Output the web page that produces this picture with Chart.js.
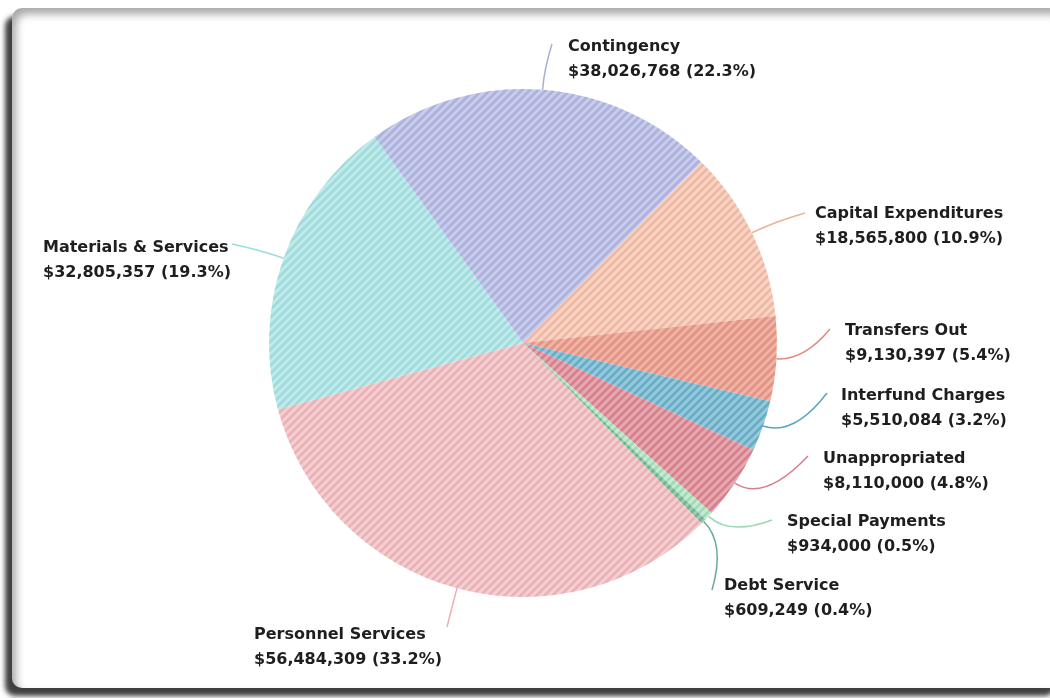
<!DOCTYPE html>
<html>
<head>
<meta charset="utf-8">
<script src="https://cdn.jsdelivr.net/npm/chart.js@4/dist/chart.umd.min.js"></script>
<style>
  html, body { margin: 0; padding: 0; background: #fff; overflow: hidden; }
  #card {
    position: absolute; left: 12px; top: 8px; width: 1050px; height: 680px;
    background: #fff; border-radius: 10px;
    box-shadow: -7px 8px 5px rgba(0,0,0,0.75), inset 4px 6px 8px rgba(0,0,0,0.35);
  }
  #wrap { position: absolute; left: 0; top: 0; width: 1050px; height: 698px; }
</style>
</head>
<body>
<div id="card"></div>
<div id="wrap"><canvas id="chart-budget"></canvas></div>
<script>
// ── Data ─────────────────────────────────────────────────────────────────────
const categories = [
  'Contingency', 'Capital Expenditures', 'Transfers Out', 'Interfund Charges',
  'Unappropriated', 'Special Payments', 'Debt Service', 'Personnel Services',
  'Materials & Services',
];
const amounts = [
  38026768, 18565800, 9130397, 5510084, 8110000, 934000, 609249, 56484309, 32805357,
];

// ── Style ────────────────────────────────────────────────────────────────────
const BASE  = ['#adb2dd', '#efb8a2', '#e49282', '#67acc7', '#d6808c', '#9edbb6', '#70b192', '#eab1b6', '#9ddbdd'];
const LIGHT = ['#c9cceb', '#f7d4c5', '#efb4a8', '#98c9da', '#e6a9b1', '#c4ebd3', '#9dceb4', '#f4cfd2', '#c3eaeb'];
const LINE  = ['#a9aed8', '#eeb09a', '#e08b7d', '#5aa5c4', '#d77f8c', '#9cd8b5', '#6aa98c', '#eab0b6', '#9fdbdd'];

// label layout: text left x, first-line y, leader end x, leader end y
const LABEL_POS = [
  [568, 47, 552, 44],
  [815, 214, 805, 213],
  [845, 331, 830, 329],
  [841, 396, 827, 393],
  [823, 459, 808, 456],
  [787, 522, 772, 520],
  [724, 586, 712, 590],
  [254, 635, 447, 627],
  [43, 248, 232, 244],
];

function makePattern(base, light) {
  const n = 8;
  const c = document.createElement('canvas');
  c.width = c.height = n;
  const g = c.getContext('2d');
  g.fillStyle = base;
  g.fillRect(0, 0, n, n);
  g.strokeStyle = light;
  g.lineWidth = 3;
  g.beginPath();
  g.moveTo(-1, n + 1); g.lineTo(n + 1, -1);
  g.moveTo(-1, 1); g.lineTo(1, -1);
  g.moveTo(n - 1, n + 1); g.lineTo(n + 1, n - 1);
  g.stroke();
  return g.createPattern(c, 'repeat');
}

const total = amounts.reduce((a, b) => a + b, 0);
const fmt = v => '$' + v.toLocaleString('en-US');

// ── Leader lines + labels ────────────────────────────────────────────────────
const labelPlugin = {
  id: 'leaderLabels',
  afterDatasetsDraw(chart) {
    const ctx = chart.ctx;
    const meta = chart.getDatasetMeta(0);
    ctx.save();
    meta.data.forEach((arc, i) => {
      const { x, y, startAngle, endAngle, outerRadius } = arc.getProps(['x', 'y', 'startAngle', 'endAngle', 'outerRadius'], true);
      const mid = (startAngle + endAngle) / 2;
      const sx = x + Math.cos(mid) * outerRadius;
      const sy = y + Math.sin(mid) * outerRadius;
      const [tx, ty, ex, ey] = LABEL_POS[i];
      const d = Math.hypot(ex - sx, ey - sy) * 0.45;
      const cx = sx + Math.cos(mid) * d;
      const cy = sy + Math.sin(mid) * d;

      ctx.strokeStyle = LINE[i];
      ctx.lineWidth = 1.5;
      ctx.beginPath();
      ctx.moveTo(sx, sy);
      ctx.quadraticCurveTo(cx, cy, ex, ey);
      ctx.stroke();

      ctx.fillStyle = '#1e1e1e';
      ctx.font = "bold 16px 'DejaVu Sans', sans-serif";
      ctx.textAlign = 'left';
      ctx.textBaseline = 'middle';
      const pct = (amounts[i] / total * 100).toFixed(1);
      ctx.fillText(categories[i], tx, ty);
      ctx.fillText(`${fmt(amounts[i])} (${pct}%)`, tx, ty + 25);
    });
    ctx.restore();
  },
};

new Chart(document.getElementById('chart-budget'), {
  type: 'pie',
  data: {
    labels: categories,
    datasets: [{
      data: amounts,
      backgroundColor: BASE.map((b, i) => makePattern(b, LIGHT[i])),
      borderWidth: 0,
    }],
  },
  options: {
    responsive: true,
    maintainAspectRatio: false,
    animation: false,
    rotation: -35.8,
    layout: { padding: { left: 269, right: 273, top: 89, bottom: 101 } },
    plugins: {
      legend: { display: false },
      tooltip: { enabled: false },
    },
  },
  plugins: [labelPlugin],
});
</script>
</body>
</html>
